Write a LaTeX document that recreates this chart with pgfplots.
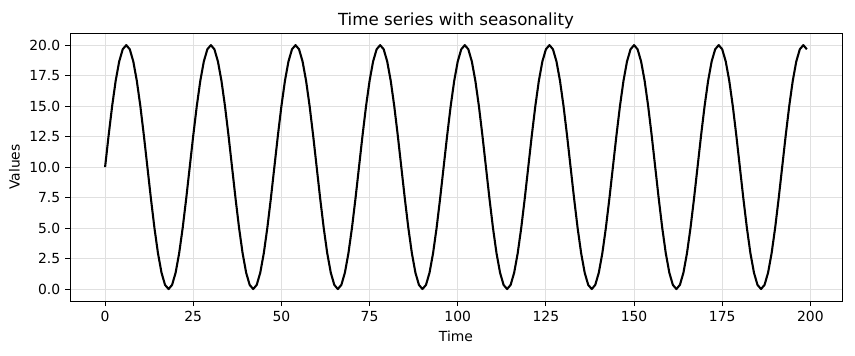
\documentclass[border=0pt]{standalone}
\usepackage{pgfplots}
\pgfplotsset{compat=1.18}
\usepackage{fontspec}
\setmainfont{DejaVu Sans}
\begin{document}
\begin{tikzpicture}
\path[use as bounding box] (0pt,0pt) rectangle (615.6pt,255.6pt);
\begin{axis}[
  at={(50.4pt,38.7pt)}, anchor=south west,
  scale only axis, width=555.8pt, height=193.2pt,
  xmin=-9.95, xmax=208.95, ymin=-1, ymax=21,
  xtick={0,25,50,75,100,125,150,175,200},
  ytick={0,2.5,5,7.5,10,12.5,15,17.5,20},
  yticklabel style={/pgf/number format/.cd,fixed,fixed zerofill,precision=1},
  /pgf/number format/assume math mode=true,
  tick label style={font=\fontsize{10}{12}\selectfont},
  label style={font=\fontsize{10}{12}\selectfont},
  title style={font=\fontsize{12}{14}\selectfont, yshift=-6.5pt},
  title={Time series with seasonality},
  xlabel={Time}, ylabel={Values},
  grid=major, grid style={black!12, line width=0.6pt},
  tick align=outside, tick pos=left,
  major tick length=3.5pt,
  axis line style={line width=0.6pt},
  every tick/.style={black, line width=0.6pt},
]
\addplot[black, line width=1.5pt, line join=round] coordinates {
(0,10)(1,12.588)(2,15)(3,17.071)(4,18.66)(5,19.659)(6,20)(7,19.659)(8,18.66)(9,17.071)(10,15)(11,12.588)(12,10)(13,7.412)(14,5)(15,2.929)(16,1.34)(17,0.341)(18,0)(19,0.341)(20,1.34)(21,2.929)(22,5)(23,7.412)
(24,10)(25,12.588)(26,15)(27,17.071)(28,18.66)(29,19.659)(30,20)(31,19.659)(32,18.66)(33,17.071)(34,15)(35,12.588)(36,10)(37,7.412)(38,5)(39,2.929)(40,1.34)(41,0.341)(42,0)(43,0.341)(44,1.34)(45,2.929)(46,5)(47,7.412)
(48,10)(49,12.588)(50,15)(51,17.071)(52,18.66)(53,19.659)(54,20)(55,19.659)(56,18.66)(57,17.071)(58,15)(59,12.588)(60,10)(61,7.412)(62,5)(63,2.929)(64,1.34)(65,0.341)(66,0)(67,0.341)(68,1.34)(69,2.929)(70,5)(71,7.412)
(72,10)(73,12.588)(74,15)(75,17.071)(76,18.66)(77,19.659)(78,20)(79,19.659)(80,18.66)(81,17.071)(82,15)(83,12.588)(84,10)(85,7.412)(86,5)(87,2.929)(88,1.34)(89,0.341)(90,0)(91,0.341)(92,1.34)(93,2.929)(94,5)(95,7.412)
(96,10)(97,12.588)(98,15)(99,17.071)(100,18.66)(101,19.659)(102,20)(103,19.659)(104,18.66)(105,17.071)(106,15)(107,12.588)(108,10)(109,7.412)(110,5)(111,2.929)(112,1.34)(113,0.341)(114,0)(115,0.341)(116,1.34)(117,2.929)(118,5)(119,7.412)
(120,10)(121,12.588)(122,15)(123,17.071)(124,18.66)(125,19.659)(126,20)(127,19.659)(128,18.66)(129,17.071)(130,15)(131,12.588)(132,10)(133,7.412)(134,5)(135,2.929)(136,1.34)(137,0.341)(138,0)(139,0.341)(140,1.34)(141,2.929)(142,5)(143,7.412)
(144,10)(145,12.588)(146,15)(147,17.071)(148,18.66)(149,19.659)(150,20)(151,19.659)(152,18.66)(153,17.071)(154,15)(155,12.588)(156,10)(157,7.412)(158,5)(159,2.929)(160,1.34)(161,0.341)(162,0)(163,0.341)(164,1.34)(165,2.929)(166,5)(167,7.412)
(168,10)(169,12.588)(170,15)(171,17.071)(172,18.66)(173,19.659)(174,20)(175,19.659)(176,18.66)(177,17.071)(178,15)(179,12.588)(180,10)(181,7.412)(182,5)(183,2.929)(184,1.34)(185,0.341)(186,0)(187,0.341)(188,1.34)(189,2.929)(190,5)(191,7.412)
(192,10)(193,12.588)(194,15)(195,17.071)(196,18.66)(197,19.659)(198,20)(199,19.659)
};
\end{axis}
\end{tikzpicture}
\end{document}
